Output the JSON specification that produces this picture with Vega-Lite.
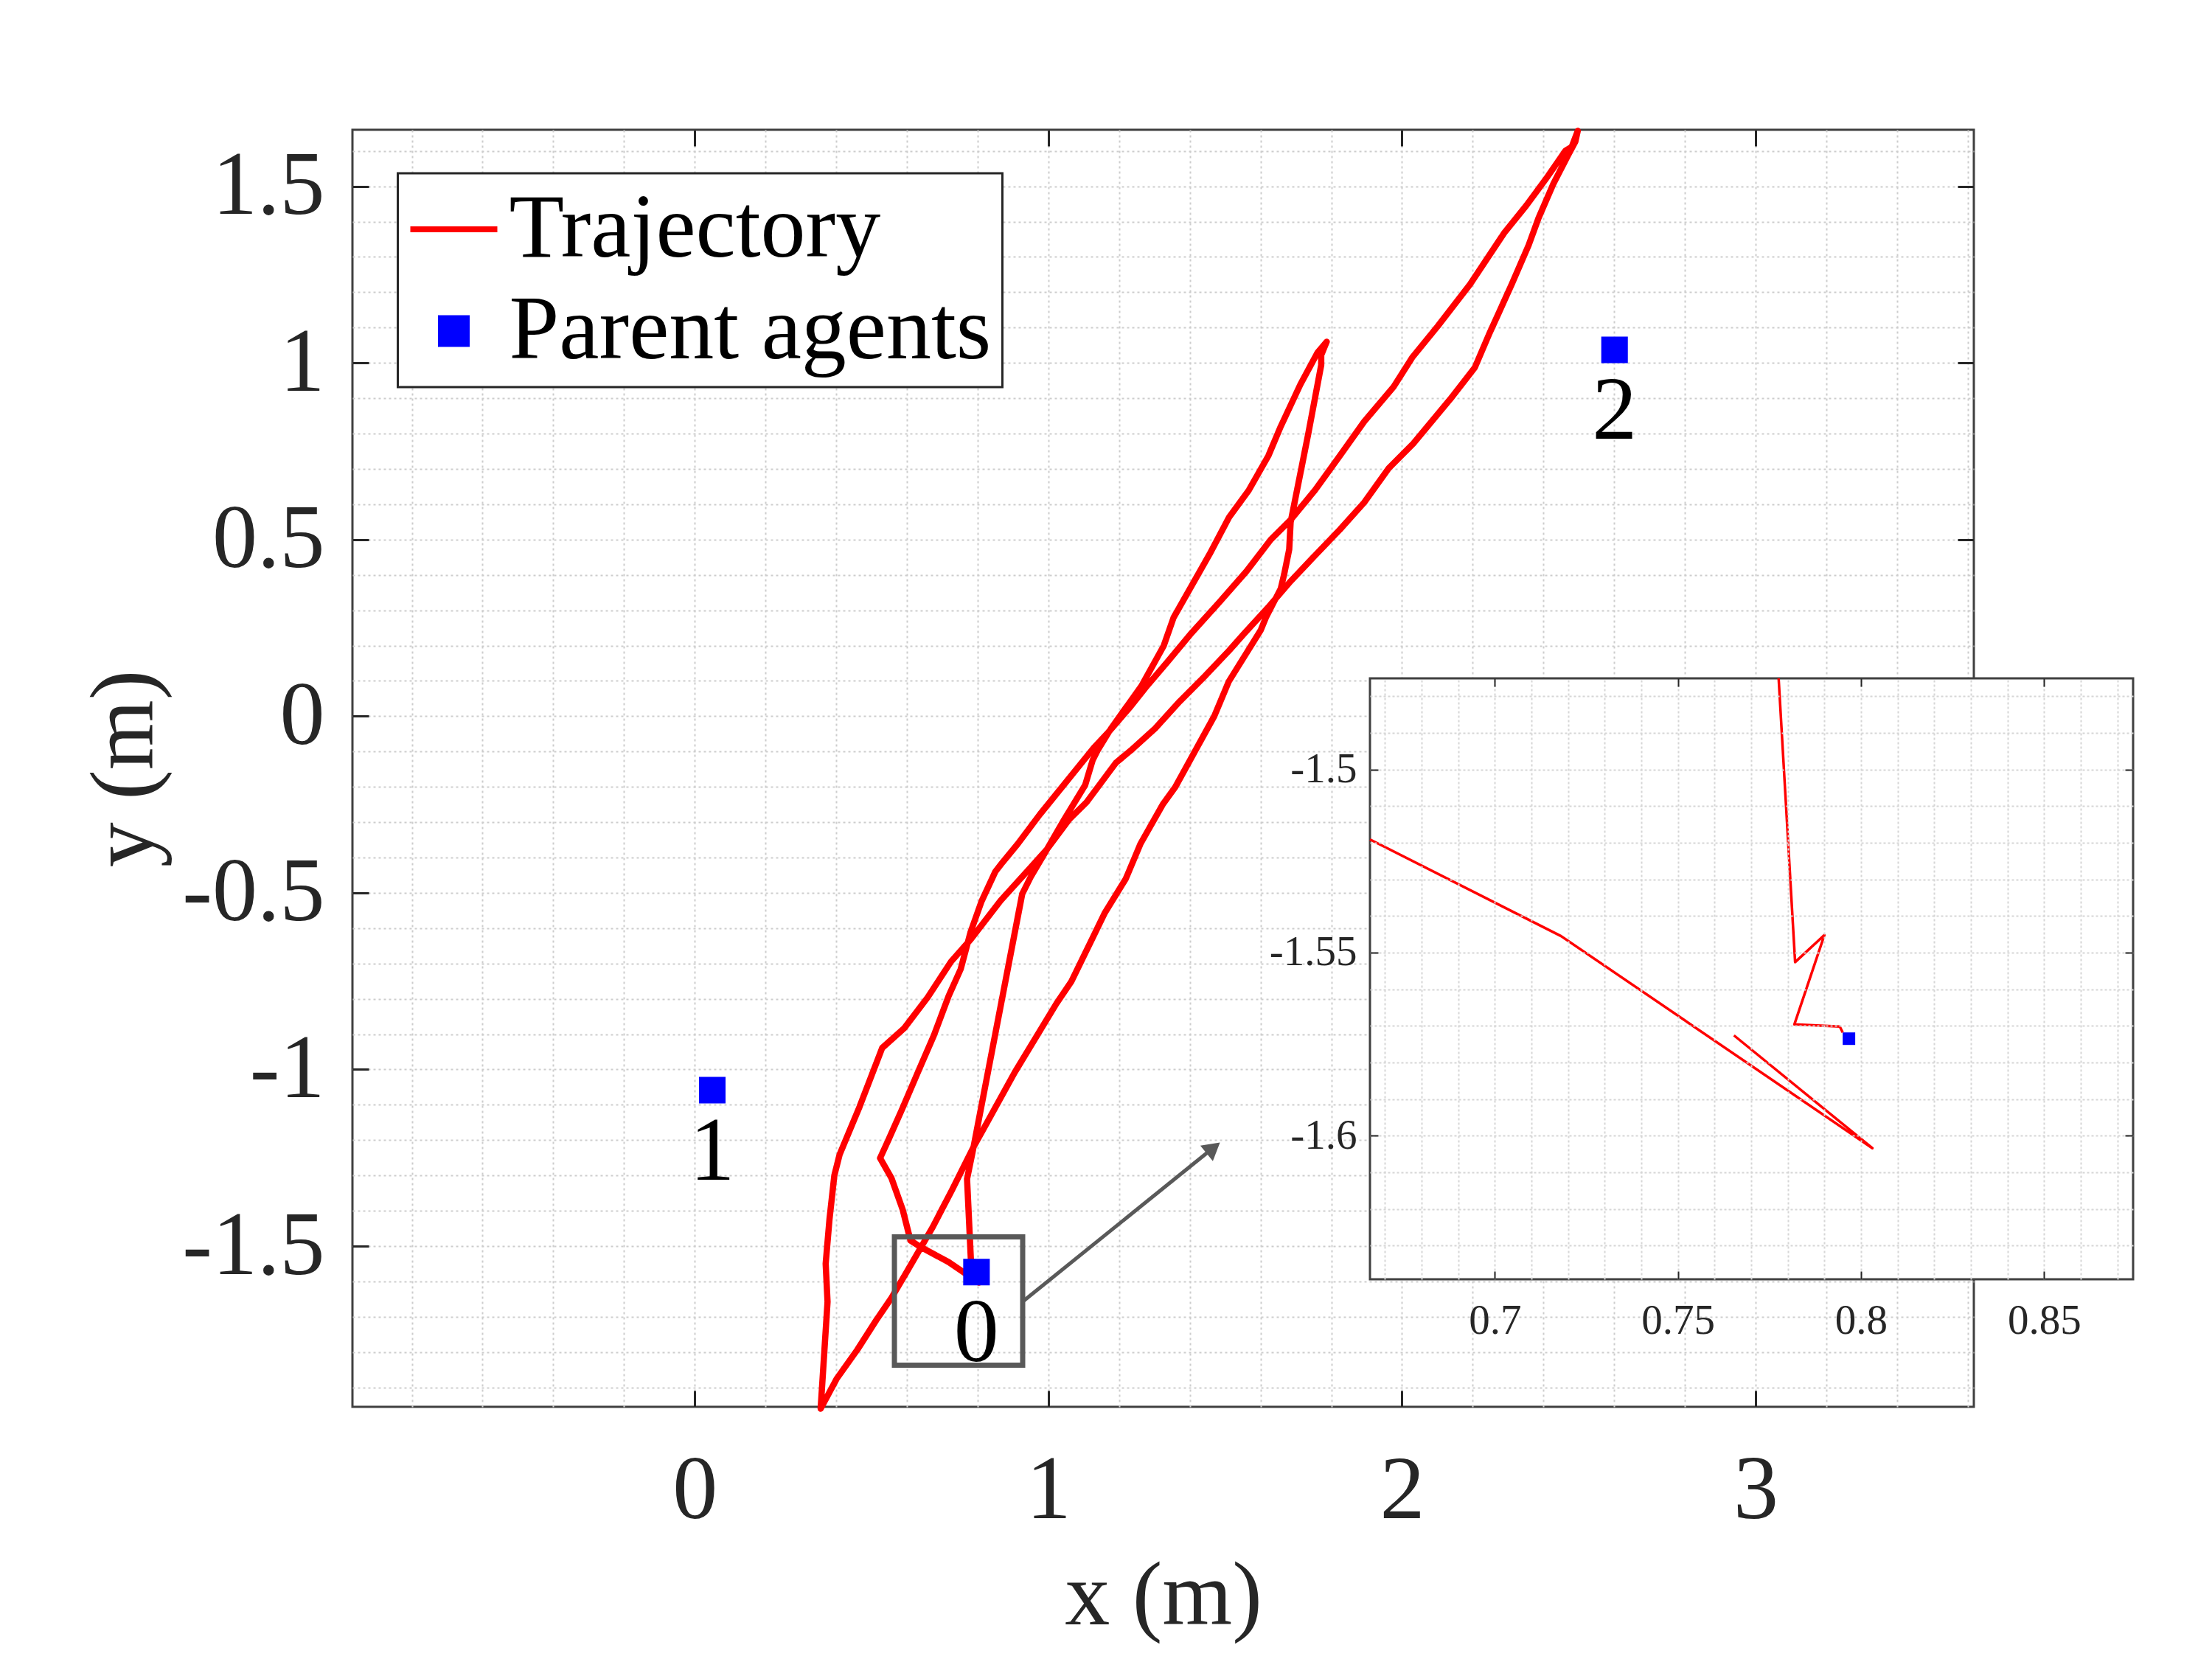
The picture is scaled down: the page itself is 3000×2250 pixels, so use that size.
{
  "$schema": "https://vega.github.io/schema/vega-lite/v6.json",
  "autosize": {"type": "none"},
  "padding": {"left": 478, "top": 176, "right": 323, "bottom": 342},
  "width": 2199,
  "height": 1732,
  "background": "white",
  "config": {
    "view": {"stroke": "#404040", "strokeWidth": 3},
    "font": "Liberation Serif"
  },
  "datasets": {
    "traj": [
      {"i":1,"x":0.7955,"y":-1.5720},{"i":2,"x":0.7940,"y":-1.5700},{"i":3,"x":0.7815,"y":-1.5694},{"i":4,"x":0.7898,"y":-1.5451},{"i":5,"x":0.7815,"y":-1.5527},
      {"i":6,"x":0.7700,"y":-1.3100},{"i":7,"x":0.7850,"y":-1.2370},{"i":8,"x":0.9260,"y":-0.5030},{"i":9,"x":0.9500,"y":-0.4550},{"i":10,"x":0.9965,"y":-0.3760},
      {"i":11,"x":1.0450,"y":-0.2920},{"i":12,"x":1.1040,"y":-0.1950},{"i":13,"x":1.1250,"y":-0.1250},{"i":14,"x":1.1390,"y":-0.0970},{"i":15,"x":1.1770,"y":-0.0350},
      {"i":16,"x":1.2640,"y":0.0870},{"i":17,"x":1.3260,"y":0.1990},{"i":18,"x":1.3540,"y":0.2790},{"i":19,"x":1.4560,"y":0.4590},{"i":20,"x":1.5110,"y":0.5630},
      {"i":21,"x":1.5670,"y":0.6400},{"i":22,"x":1.6220,"y":0.7370},{"i":23,"x":1.6570,"y":0.8200},{"i":24,"x":1.7125,"y":0.9390},{"i":25,"x":1.7610,"y":1.0290},
      {"i":26,"x":1.7870,"y":1.0600},{"i":27,"x":1.7715,"y":1.0220},{"i":28,"x":1.7715,"y":0.9940},{"i":29,"x":1.7350,"y":0.8000},{"i":30,"x":1.6850,"y":0.5490},
      {"i":31,"x":1.6810,"y":0.4720},{"i":32,"x":1.6670,"y":0.4030},{"i":33,"x":1.6570,"y":0.3610},{"i":34,"x":1.6150,"y":0.2790},{"i":35,"x":1.6007,"y":0.2440},
      {"i":36,"x":1.5100,"y":0.0980},{"i":37,"x":1.4690,"y":0.0000},{"i":38,"x":1.3580,"y":-0.2020},{"i":39,"x":1.3230,"y":-0.2505},{"i":40,"x":1.2600,"y":-0.3620},
      {"i":41,"x":1.2190,"y":-0.4600},{"i":42,"x":1.1600,"y":-0.5560},{"i":43,"x":1.0650,"y":-0.7510},{"i":44,"x":1.0230,"y":-0.8130},{"i":45,"x":0.9050,"y":-1.0080},
      {"i":46,"x":0.7870,"y":-1.2220},{"i":47,"x":0.7270,"y":-1.3420},{"i":48,"x":0.6730,"y":-1.4460},{"i":49,"x":0.5990,"y":-1.5740},{"i":50,"x":0.5560,"y":-1.6470},
      {"i":51,"x":0.5130,"y":-1.7100},{"i":52,"x":0.4600,"y":-1.7930},{"i":53,"x":0.4010,"y":-1.8760},{"i":54,"x":0.3560,"y":-1.9600},{"i":55,"x":0.3755,"y":-1.6576},
      {"i":56,"x":0.3702,"y":-1.5500},{"i":57,"x":0.3809,"y":-1.4250},{"i":58,"x":0.3947,"y":-1.3000},{"i":59,"x":0.4096,"y":-1.2410},{"i":60,"x":0.4660,"y":-1.1056},
      {"i":61,"x":0.5300,"y":-0.9390},{"i":62,"x":0.5457,"y":-0.9250},{"i":63,"x":0.5925,"y":-0.8830},{"i":64,"x":0.6585,"y":-0.7960},{"i":65,"x":0.7246,"y":-0.6948},
      {"i":66,"x":0.7802,"y":-0.6320},{"i":67,"x":0.8650,"y":-0.5220},{"i":68,"x":0.9500,"y":-0.4280},{"i":69,"x":0.9965,"y":-0.3760},{"i":70,"x":1.0590,"y":-0.2920},
      {"i":71,"x":1.1080,"y":-0.2435},{"i":72,"x":1.1910,"y":-0.1320},{"i":73,"x":1.2330,"y":-0.0970},{"i":74,"x":1.3020,"y":-0.0345},{"i":75,"x":1.3715,"y":0.0420},
      {"i":76,"x":1.4410,"y":0.1120},{"i":77,"x":1.5104,"y":0.1850},{"i":78,"x":1.5530,"y":0.2330},{"i":79,"x":1.6250,"y":0.3120},{"i":80,"x":1.6850,"y":0.3820},
      {"i":81,"x":1.7540,"y":0.4550},{"i":82,"x":1.8240,"y":0.5280},{"i":83,"x":1.8930,"y":0.6050},{"i":84,"x":1.9625,"y":0.7020},{"i":85,"x":2.0320,"y":0.7720},
      {"i":86,"x":2.1360,"y":0.8970},{"i":87,"x":2.2060,"y":0.9870},{"i":88,"x":2.2470,"y":1.0830},{"i":89,"x":2.3100,"y":1.2220},{"i":90,"x":2.3580,"y":1.3330},
      {"i":91,"x":2.3860,"y":1.4100},{"i":92,"x":2.4280,"y":1.5070},{"i":93,"x":2.4690,"y":1.5870},{"i":94,"x":2.4900,"y":1.6260},{"i":95,"x":2.4970,"y":1.6570},
      {"i":96,"x":2.4800,"y":1.6120},{"i":97,"x":2.4625,"y":1.6010},{"i":98,"x":2.4070,"y":1.5210},{"i":99,"x":2.3510,"y":1.4450},{"i":100,"x":2.2890,"y":1.3680},
      {"i":101,"x":2.1920,"y":1.2220},{"i":102,"x":2.1010,"y":1.1040},{"i":103,"x":2.0300,"y":1.0170},{"i":104,"x":1.9760,"y":0.9320},{"i":105,"x":1.8930,"y":0.8340},
      {"i":106,"x":1.8240,"y":0.7370},{"i":107,"x":1.7540,"y":0.6400},{"i":108,"x":1.6850,"y":0.5560},{"i":109,"x":1.6290,"y":0.5000},{"i":110,"x":1.5600,"y":0.4100},
      {"i":111,"x":1.4830,"y":0.3220},{"i":112,"x":1.4060,"y":0.2370},{"i":113,"x":1.3370,"y":0.1540},{"i":114,"x":1.2740,"y":0.0800},{"i":115,"x":1.2330,"y":0.0280},
      {"i":116,"x":1.1700,"y":-0.0450},{"i":117,"x":1.1280,"y":-0.0900},{"i":118,"x":1.0520,"y":-0.1840},{"i":119,"x":0.9760,"y":-0.2780},{"i":120,"x":0.9130,"y":-0.3620},
      {"i":121,"x":0.8710,"y":-0.4130},{"i":122,"x":0.8500,"y":-0.4400},{"i":123,"x":0.8110,"y":-0.5240},{"i":124,"x":0.7800,"y":-0.6110},{"i":125,"x":0.7520,"y":-0.7160},
      {"i":126,"x":0.7180,"y":-0.7920},{"i":127,"x":0.6760,"y":-0.9040},{"i":128,"x":0.6340,"y":-1.0010},{"i":129,"x":0.5860,"y":-1.1130},{"i":130,"x":0.5460,"y":-1.2030},
      {"i":131,"x":0.5240,"y":-1.2510},{"i":132,"x":0.5560,"y":-1.3070},{"i":133,"x":0.5880,"y":-1.3970},{"i":134,"x":0.6100,"y":-1.4840},{"i":135,"x":0.6360,"y":-1.5010},
      {"i":136,"x":0.7181,"y":-1.5455},{"i":137,"x":0.8031,"y":-1.6034},{"i":138,"x":0.7653,"y":-1.5726}
    ],
    "inset": [
      {"s":"Q","i":1,"x":0.7775,"y":-1.4751},{"s":"Q","i":2,"x":0.7820,"y":-1.5526},{"s":"Q","i":3,"x":0.7900,"y":-1.5452},
      {"s":"Q","i":4,"x":0.7818,"y":-1.5696},{"s":"Q","i":5,"x":0.7942,"y":-1.5702},{"s":"Q","i":6,"x":0.7950,"y":-1.5718},
      {"s":"P","i":1,"x":0.6659,"y":-1.5191},{"s":"P","i":2,"x":0.7181,"y":-1.5455},{"s":"P","i":3,"x":0.8031,"y":-1.6034},{"s":"P","i":4,"x":0.7653,"y":-1.5726}
    ],
    "agents": [
      {"id":"0","x":0.7967,"y":-1.5735},
      {"id":"1","x":0.0495,"y":-1.0586},
      {"id":"2","x":2.6010,"y":1.0370}
    ]
  },
  "layer": [
    {
      "layer": [
        {
          "data": {"name": "traj"},
          "mark": {"type": "line", "strokeWidth": 8.5, "strokeJoin": "round", "strokeCap": "round"},
          "encoding": {
            "x": {"field": "x", "type": "quantitative",
              "scale": {"domain": [-0.968, 3.617], "nice": false, "zero": false},
              "axis": {"orient": "bottom", "domain": false,
                "values": [-0.8,-0.6,-0.4,-0.2,0,0.2,0.4,0.6,0.8,1,1.2,1.4,1.6,1.8,2,2.2,2.4,2.6,2.8,3,3.2,3.4,3.6],
                "grid": true, "gridColor": "#cdcdcd", "gridDash": [3,4], "gridWidth": 2,
                "tickSize": -22, "tickColor": "#262626", "tickWidth": 3,
                "tickOpacity": {"condition": {"test": "abs(datum.value - round(datum.value)) < 0.001", "value": 1}, "value": 0},
                "format": "~g",
                "labelExpr": "abs(datum.value - round(datum.value)) < 0.001 ? replace(datum.label, '\u2212', '-') : ''",
                "labelFont": "Liberation Serif", "labelFontSize": 122, "labelColor": "#262626", "labelLimit": 2000,
                "labelPadding": 172, "labelBaseline": "alphabetic", "labelOverlap": false, "labelFlush": false, "labelBound": false,
                "title": "x (m)", "titleFont": "Liberation Serif", "titleFontSize": 122, "titleFontWeight": "normal", "titleColor": "#262626",
                "titleX": 1099.5, "titleY": 294, "titleBaseline": "alphabetic", "titleAlign": "center", "titleAngle": 0, "titleLimit": 3000}},
            "y": {"field": "y", "type": "quantitative",
              "scale": {"domain": [-1.955, 1.66], "nice": false, "zero": false},
              "axis": {"orient": "left", "domain": false,
                "values": [-1.9,-1.8,-1.7,-1.6,-1.5,-1.4,-1.3,-1.2,-1.1,-1,-0.9,-0.8,-0.7,-0.6,-0.5,-0.4,-0.3,-0.2,-0.1,0,0.1,0.2,0.3,0.4,0.5,0.6,0.7,0.8,0.9,1,1.1,1.2,1.3,1.4,1.5,1.6],
                "grid": true, "gridColor": "#cdcdcd", "gridDash": [3,4], "gridWidth": 2,
                "tickSize": -22, "tickColor": "#262626", "tickWidth": 3,
                "tickOpacity": {"condition": {"test": "abs(datum.value*2 - round(datum.value*2)) < 0.001", "value": 1}, "value": 0},
                "format": "~g",
                "labelExpr": "abs(datum.value*2 - round(datum.value*2)) < 0.001 ? replace(datum.label, '\u2212', '-') : ''",
                "labelFont": "Liberation Serif", "labelFontSize": 122, "labelColor": "#262626", "labelLimit": 2000,
                "labelPadding": 60, "labelAlign": "right", "labelBaseline": "middle", "labelOverlap": false, "labelFlush": false, "labelBound": false,
                "title": "y (m)", "titleFont": "Liberation Serif", "titleFontSize": 122, "titleFontWeight": "normal", "titleColor": "#262626",
                "titleX": -272, "titleY": 866, "titleAngle": 270, "titleBaseline": "alphabetic", "titleAlign": "center", "titleLimit": 3000}},
            "order": {"field": "i", "type": "quantitative"},
            "color": {"datum": "Trajectory", "type": "nominal",
              "scale": {"domain": ["Trajectory", "Parent agents"], "range": ["#ff0000", "#0000ff"]},
              "legend": {
                "orient": "none", "legendX": 61.5, "legendY": 59, "direction": "vertical",
                "title": null,
                "labelFont": "Liberation Serif", "labelFontSize": 122, "labelColor": "#000000", "labelLimit": 3000,
                "labelOffset": 14,
                "symbolSize": 13924, "symbolStrokeWidth": 8,
                "rowPadding": 16, "padding": 15,
                "strokeColor": "#262626", "fillColor": "#ffffff",
                "encode": {
                  "legend": {"update": {"strokeWidth": {"value": 3}}},
                  "symbols": {"update": {
                    "shape": {"signal": "datum.value === 'Trajectory' ? 'stroke' : 'square'"},
                    "size": {"signal": "datum.value === 'Trajectory' ? 13924 : 1225"},
                    "stroke": {"signal": "datum.value === 'Trajectory' ? '#ff0000' : 'transparent'"},
                    "fill": {"signal": "datum.value === 'Trajectory' ? 'transparent' : '#0000ff'"},
                    "strokeWidth": {"value": 8},
                    "opacity": {"value": 1}
                  }}
                }
              }}
          }
        },
        {
          "data": {"name": "agents"},
          "mark": {"type": "point", "shape": "square", "filled": true, "size": 1300, "opacity": 1},
          "encoding": {
            "x": {"field": "x", "type": "quantitative",
              "axis": {"orient": "top", "domain": false, "grid": false, "labels": false, "title": null,
                "values": [0,1,2,3], "tickSize": -22, "tickColor": "#262626", "tickWidth": 3}},
            "y": {"field": "y", "type": "quantitative",
              "axis": {"orient": "right", "domain": false, "grid": false, "labels": false, "title": null,
                "values": [-1.5,-1,-0.5,0,0.5,1,1.5], "tickSize": -22, "tickColor": "#262626", "tickWidth": 3}},
            "color": {"datum": "Parent agents", "type": "nominal"}
          }
        },
        {
          "data": {"name": "agents"},
          "mark": {"type": "text", "dy": 121, "baseline": "alphabetic", "align": "center", "font": "Liberation Serif", "fontSize": 122, "color": "#000000"},
          "encoding": {
            "x": {"field": "x", "type": "quantitative", "axis": null},
            "y": {"field": "y", "type": "quantitative", "axis": null},
            "text": {"field": "id"}
          }
        },
        {
          "data": {"values": [{}]},
          "mark": {"type": "rect", "fill": "transparent", "stroke": "#595959", "strokeWidth": 7},
          "encoding": {
            "x": {"datum": 0.5646, "type": "quantitative", "axis": null},
            "x2": {"datum": 0.9273},
            "y": {"datum": -1.837, "type": "quantitative", "axis": null},
            "y2": {"datum": -1.474}
          }
        },
        {
          "data": {"values": [{}]},
          "mark": {"type": "rule", "stroke": "#595959", "strokeWidth": 5},
          "encoding": {
            "x": {"datum": 0.9300, "type": "quantitative", "axis": null},
            "y": {"datum": -1.655, "type": "quantitative", "axis": null},
            "x2": {"datum": 1.450},
            "y2": {"datum": -1.235}
          }
        },
        {
          "data": {"values": [{}]},
          "mark": {"type": "point", "shape": "triangle-up", "filled": true, "size": 729, "angle": 51, "color": "#595959", "opacity": 1},
          "encoding": {
            "x": {"datum": 1.4663, "type": "quantitative", "axis": null},
            "y": {"datum": -1.2223, "type": "quantitative", "axis": null}
          }
        }
      ],
      "resolve": {"axis": {"x": "independent", "y": "independent"}}
    },
    {
      "layer": [
        {
          "data": {"values": [{}]},
          "mark": {"type": "rect", "fill": "#ffffff", "stroke": "#404040", "strokeWidth": 3},
          "encoding": {
            "x": {"datum": 0.6659, "type": "quantitative",
              "scale": {"domain": [0.6659, 0.8743], "range": [1380, 2415], "nice": false, "zero": false},
              "axis": {"orient": "top", "offset": -744, "zindex": 1, "domain": false, "labels": false, "title": null,
                "values": [0.67,0.68,0.69,0.7,0.71,0.72,0.73,0.74,0.75,0.76,0.77,0.78,0.79,0.8,0.81,0.82,0.83,0.84,0.85,0.86,0.87],
                "grid": true, "gridColor": "#d6d6d6", "gridDash": [3,3], "gridWidth": 2,
                "tickSize": -11, "tickColor": "#262626", "tickWidth": 2,
                "tickOpacity": {"condition": {"test": "abs(datum.value*20 - round(datum.value*20)) < 0.001", "value": 1}, "value": 0}}},
            "x2": {"datum": 0.8743},
            "y": {"datum": -1.6392, "type": "quantitative",
              "scale": {"domain": [-1.6392, -1.4751], "range": [1559, 744], "nice": false, "zero": false},
              "axis": {"orient": "left", "offset": -1380, "zindex": 1, "domain": false, "title": null,
                "values": [-1.63,-1.62,-1.61,-1.6,-1.59,-1.58,-1.57,-1.56,-1.55,-1.54,-1.53,-1.52,-1.51,-1.5,-1.49,-1.48],
                "grid": true, "gridColor": "#d6d6d6", "gridDash": [3,3], "gridWidth": 2,
                "tickSize": -11, "tickColor": "#262626", "tickWidth": 2,
                "tickOpacity": {"condition": {"test": "abs(datum.value*20 - round(datum.value*20)) < 0.001", "value": 1}, "value": 0},
                "labelExpr": "abs(datum.value*20 - round(datum.value*20)) < 0.001 ? replace(format(datum.value, '~g'), '\u2212', '-') : ''",
                "labelFont": "Liberation Serif", "labelFontSize": 57, "labelColor": "#262626", "labelLimit": 2000,
                "labelPadding": 29, "labelAlign": "right", "labelBaseline": "middle", "labelOverlap": false, "labelFlush": false, "labelBound": false}},
            "y2": {"datum": -1.4751}
          }
        },
        {
          "data": {"name": "inset"},
          "mark": {"type": "line", "color": "#ff0000", "strokeWidth": 3.5, "strokeJoin": "round"},
          "encoding": {
            "x": {"field": "x", "type": "quantitative",
              "scale": {"domain": [0.6659, 0.8743], "range": [1380, 2415], "nice": false, "zero": false},
              "axis": {"orient": "bottom", "offset": -173, "zindex": 1, "domain": false, "grid": false, "title": null,
                "values": [0.7, 0.75, 0.8, 0.85],
                "tickSize": -11, "tickColor": "#262626", "tickWidth": 2,
                "format": "~g",
                "labelFont": "Liberation Serif", "labelFontSize": 57, "labelColor": "#262626", "labelLimit": 2000,
                "labelPadding": 84, "labelBaseline": "alphabetic", "labelOverlap": false, "labelFlush": false, "labelBound": false}},
            "y": {"field": "y", "type": "quantitative",
              "scale": {"domain": [-1.6392, -1.4751], "range": [1559, 744], "nice": false, "zero": false},
              "axis": {"orient": "right", "offset": 216, "zindex": 1, "domain": false, "grid": false, "labels": false, "title": null,
                "values": [-1.6, -1.55, -1.5],
                "tickSize": -11, "tickColor": "#262626", "tickWidth": 2}},
            "detail": {"field": "s", "type": "nominal"},
            "order": {"field": "i", "type": "quantitative"}
          }
        },
        {
          "data": {"values": [{}]},
          "mark": {"type": "point", "shape": "square", "filled": true, "size": 289, "color": "#0000ff", "opacity": 1},
          "encoding": {
            "x": {"datum": 0.7967, "type": "quantitative", "axis": null},
            "y": {"datum": -1.5735, "type": "quantitative", "axis": null}
          }
        }
      ],
      "resolve": {"axis": {"x": "independent", "y": "independent"}}
    }
  ],
  "resolve": {
    "scale": {"x": "independent", "y": "independent"},
    "axis": {"x": "independent", "y": "independent"}
  }
}
